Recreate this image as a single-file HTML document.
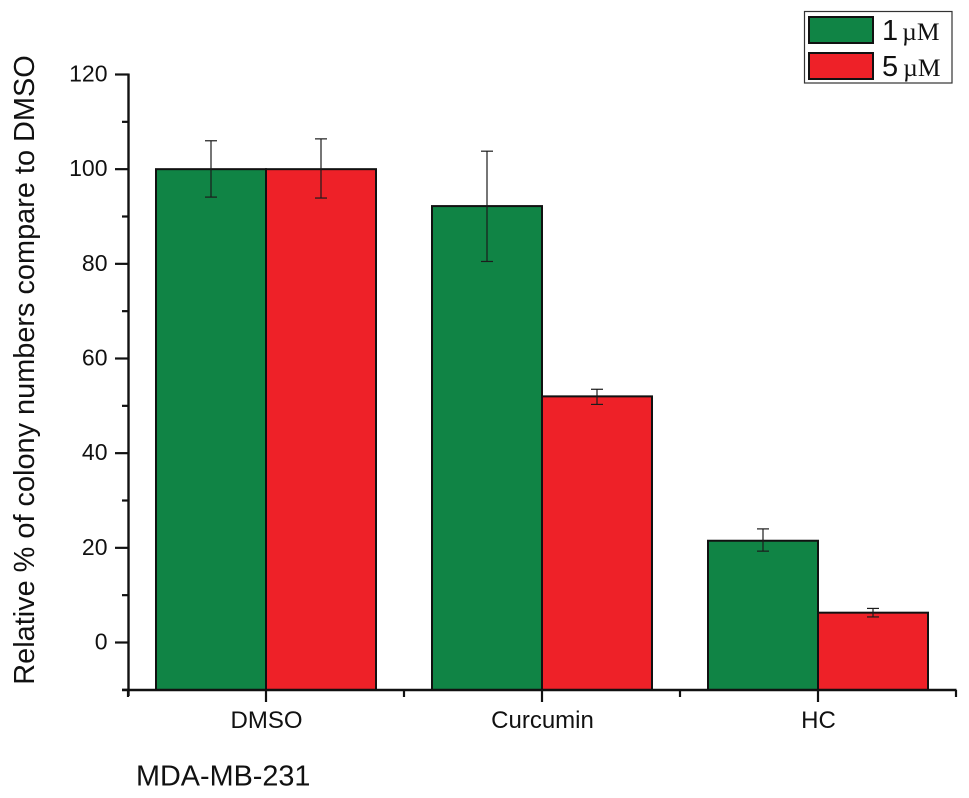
<!DOCTYPE html>
<html>
<head>
<meta charset="utf-8">
<title>Relative colony numbers, MDA-MB-231</title>
<style>
html,body{margin:0;padding:0;background:#fff;width:969px;height:798px;overflow:hidden}
svg{display:block}
text{font-family:"Liberation Sans",Arial,sans-serif;fill:#111}
</style>
</head>
<body>
<svg id="chart" width="969" height="798" viewBox="0 0 969 798" xmlns="http://www.w3.org/2000/svg">
  <text x="34" y="370" font-size="28.9" text-anchor="middle" transform="rotate(-90 34 370)">Relative % of colony numbers compare to DMSO</text>
  <text x="136" y="785.5" font-size="28.8">MDA-MB-231</text>
  <g id="bars"></g>
  <g id="errors"></g>
  <g id="axes"></g>
  <g>
    <rect x="804.5" y="11.5" width="147.5" height="71.5" fill="#fff" stroke="#333" stroke-width="1.2"/>
    <rect x="809" y="17" width="64" height="26" fill="#108445" stroke="#111" stroke-width="2"/>
    <rect x="809" y="53" width="64" height="26" fill="#ee2128" stroke="#111" stroke-width="2"/>
    <text x="882" y="40" font-size="29">1<tspan font-family="'Liberation Serif',serif" font-size="25.5" dx="4">µM</tspan></text>
    <text x="882" y="76" font-size="29">5<tspan font-family="'Liberation Serif',serif" font-size="25.5" dx="5">µM</tspan></text>
  </g>
</svg>
<script>
var categories = ['DMSO', 'Curcumin', 'HC'];
var series1Values = [100, 92.2, 21.5];
var series1High = [106, 103.8, 24];
var series1Low = [94.1, 80.5, 19.3];
var series2Values = [100, 52, 6.3];
var series2High = [106.4, 53.5, 7.2];
var series2Low = [93.9, 50.3, 5.4];
var yTickLabels = [0, 20, 40, 60, 80, 100, 120];
var yMinorTicks = [-10, 10, 30, 50, 70, 90, 110];

function yScale(v) { return 642.5 - v * (568 / 120); }
function xCenter(i) { return 266 + i * 276; }

var NS = 'http://www.w3.org/2000/svg';
function make(tag, parent, attrs) {
  var el = document.createElementNS(NS, tag);
  for (var k in attrs) { el.setAttribute(k, attrs[k]); }
  parent.appendChild(el);
  return el;
}
var barsG = document.getElementById('bars');
var errG = document.getElementById('errors');
var axG = document.getElementById('axes');
var BAR_W = 110;
var baseY = 690;

function drawSeries(values, fill, offset, key) {
  values.forEach(function (v, i) {
    var x = xCenter(i) + offset;
    var top = yScale(v);
    var bar = make('rect', barsG, { x: x, y: top, width: BAR_W, height: baseY - top, fill: fill, stroke: '#111', 'stroke-width': 2 });
    
    
  });
}
function drawErrors(highs, lows, offset, key) {
  highs.forEach(function (h, i) {
    var cx = xCenter(i) + offset + BAR_W / 2;
    var yh = yScale(h);
    var yl = yScale(lows[i]);
    var g = make('g', errG, { stroke: '#1c1c1c', 'stroke-width': 1.2, fill: 'none' });
    
    
    make('line', g, { x1: cx, x2: cx, y1: yh, y2: yl });
    make('line', g, { x1: cx - 6, x2: cx + 6, y1: yh, y2: yh });
    make('line', g, { x1: cx - 6, x2: cx + 6, y1: yl, y2: yl });
  });
}
drawSeries(series1Values, '#108445', -BAR_W, '1um');
drawSeries(series2Values, '#ee2128', 0, '5um');
drawErrors(series1High, series1Low, -BAR_W, '1um');
drawErrors(series2High, series2Low, 0, '5um');

var yAxis = make('line', axG, { x1: 128.5, x2: 128.5, y1: yScale(120) - 1, y2: baseY + 6, stroke: '#111', 'stroke-width': 2.4 });


var xAxis = make('line', axG, { x1: 122, x2: 956.5, y1: baseY, y2: baseY, stroke: '#111', 'stroke-width': 2.4 });



yTickLabels.forEach(function (v) {
  var y = yScale(v);
  var t = make('line', axG, { x1: 115, x2: 128.5, y1: y, y2: y, stroke: '#111', 'stroke-width': 2.2 });
  
  
  var l = make('text', axG, { x: 107.5, y: y + 7, 'font-size': 23, 'text-anchor': 'end' });
  l.textContent = v;
  
  
});
yMinorTicks.forEach(function (v) {
  var y = yScale(v);
  var t = make('line', axG, { x1: 122, x2: 128.5, y1: y, y2: y, stroke: '#111', 'stroke-width': 2.2 });
  
  
});
categories.forEach(function (c, i) {
  var x = xCenter(i);
  var t = make('line', axG, { x1: x, x2: x, y1: baseY, y2: baseY + 12, stroke: '#111', 'stroke-width': 2.2 });
  
  
  var l = make('text', axG, { x: x + 0.5, y: 728, 'font-size': 24, 'text-anchor': 'middle' });
  l.textContent = c;
  
  
  var m = make('line', axG, { x1: x + 138, x2: x + 138, y1: baseY, y2: baseY + 7, stroke: '#111', 'stroke-width': 2.2 });
  
  
});
var m0 = make('line', axG, { x1: xCenter(0) - 138, x2: xCenter(0) - 138, y1: baseY, y2: baseY + 7, stroke: '#111', 'stroke-width': 2.2 });


</script>
</body>
</html>
